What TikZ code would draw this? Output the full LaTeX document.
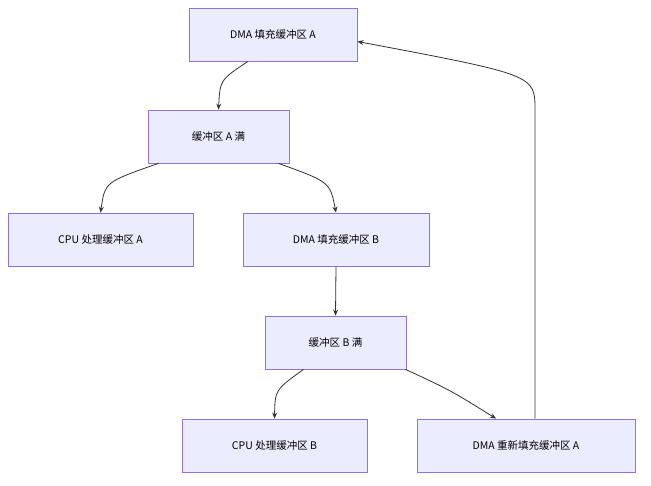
\documentclass[tikz,border=0pt]{standalone}
\usepackage{fontspec}
\setmainfont{Noto Sans CJK SC}
\usetikzlibrary{arrows.meta,positioning,calc}
\definecolor{boxfill}{HTML}{ECECFF}
\definecolor{boxline}{HTML}{9370DB}
\definecolor{edgeline}{HTML}{333333}
\begin{document}
\begin{tikzpicture}[x=1pt,y=-1pt,
    block/.style={rectangle, draw=boxline, fill=boxfill, line width=0.8pt,
    minimum height=53pt, text=black, font=\fontsize{10.5}{12}\selectfont, inner sep=0pt},
    edge/.style={draw=edgeline, line width=0.8pt, -{Stealth[length=6pt,width=5pt]}}]
    \useasboundingbox (0,0) rectangle (651,486);
    \node (fillA) [block, minimum width=168pt] at (273,34.5) {DMA 填充缓冲区 A};
    \node (fullA) [block, minimum width=141pt] at (218.5,136.5) {缓冲区 A 满};
    \node (cpuA) [block, minimum width=185pt] at (100.5,239.5) {CPU 处理缓冲区 A};
    \node (fillB) [block, minimum width=186pt] at (336,239.5) {DMA 填充缓冲区 B};
    \node (fullB) [block, minimum width=141pt] at (335.5,342.5) {缓冲区 B 满};
    \node (cpuB) [block, minimum width=185pt] at (274.5,445.5) {CPU 处理缓冲区 B};
    \node (refill) [block, minimum width=218pt] at (526,445.5) {DMA 重新填充缓冲区 A};

    \draw [edge] ([xshift=-25pt]fillA.south) .. controls (220,80) .. (fullA.north);
    \draw [edge] ([xshift=-60pt]fullA.south) .. controls (105,182) .. (cpuA.north);
    \draw [edge] ([xshift=60pt]fullA.south) .. controls (330,182) .. (fillB.north);
    \draw [edge] (fillB.south) -- (fullB.north);
    \draw [edge] ([xshift=-32pt]fullB.south) .. controls (275,390) .. (cpuB.north);
    \draw [edge] ([xshift=70pt]fullB.south) .. controls (450,390) .. ([xshift=-30pt]refill.north);
    \draw [edge] ([xshift=9pt]refill.north) -- (535,110) .. controls (535,75) .. ([yshift=-7pt]fillA.east);
\end{tikzpicture}
\end{document}
